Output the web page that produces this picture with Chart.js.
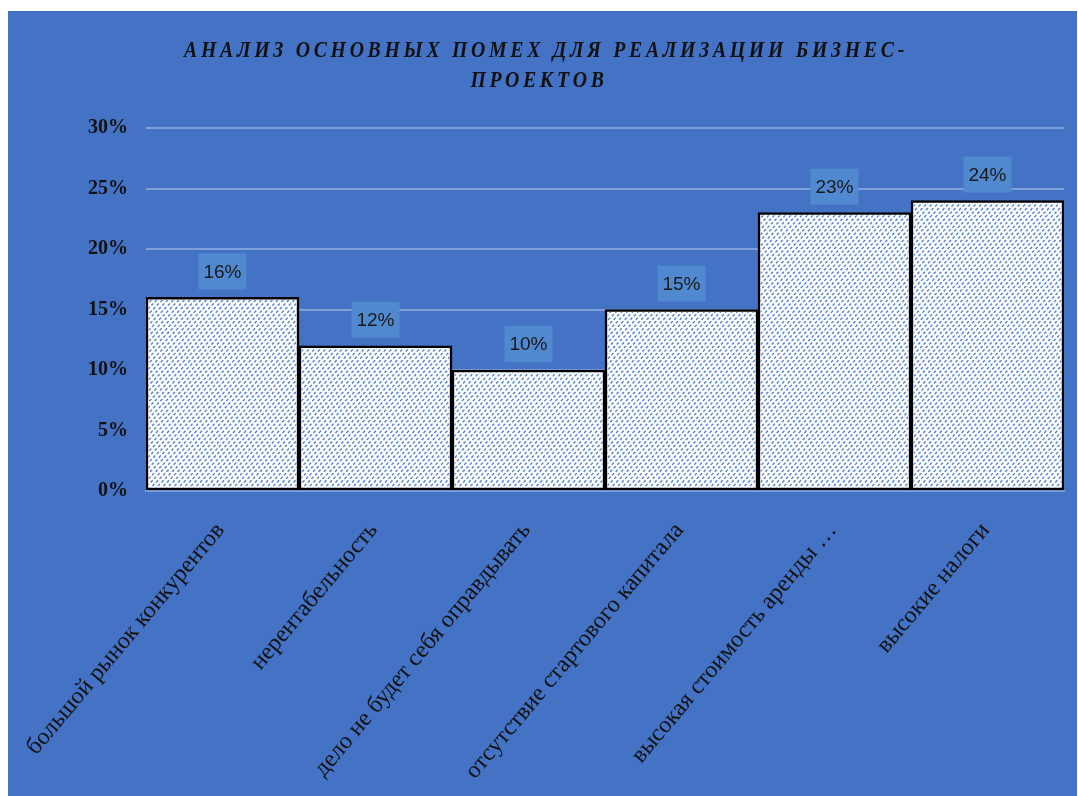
<!DOCTYPE html>
<html>
<head>
<meta charset="utf-8">
<script src="https://cdn.jsdelivr.net/npm/chart.js@4/dist/chart.umd.min.js"></script>
<style>
  html, body { margin: 0; padding: 0; background: #ffffff; }
  #c { display: block; }
</style>
</head>
<body>
<canvas id="c" width="1078" height="796"></canvas>
<script>
const categories = [
  'большой рынок конкурентов',
  'нерентабельность',
  'дело не будет себя оправдывать',
  'отсутствие стартового капитала',
  'высокая стоимость аренды …',
  'высокие налоги'
];
const values = [16, 12, 10, 15, 23, 24];
const valueLabels = ['16%', '12%', '10%', '15%', '23%', '24%'];
const titleLines = ['АНАЛИЗ ОСНОВНЫХ ПОМЕХ ДЛЯ РЕАЛИЗАЦИИ БИЗНЕС-', 'ПРОЕКТОВ'];

const BLUE = '#4472c4';
const canvas = document.getElementById('c');

const bgPlugin = {
  id: 'bgPanel',
  beforeDraw(chart) {
    const ctx = chart.ctx;
    ctx.save();
    ctx.fillStyle = '#ffffff';
    ctx.fillRect(0, 0, chart.width, chart.height);
    ctx.fillStyle = BLUE;
    ctx.fillRect(8, 11, chart.width - 9, chart.height - 11);
    ctx.restore();
  }
};

// diagonal dashed hatch inside each bar (Excel-style pattern fill)
const hatchPlugin = {
  id: 'hatch',
  afterDatasetsDraw(chart) {
    const ctx = chart.ctx;
    const meta = chart.getDatasetMeta(0);
    ctx.save();
    meta.data.forEach((bar) => {
      const p = bar.getProps(['x', 'y', 'base', 'width'], true);
      const inset = 2.5;
      const l = p.x - p.width / 2 + inset;
      const r = p.x + p.width / 2 - inset;
      const t = Math.min(p.y, p.base) + inset;
      const b = Math.max(p.y, p.base) - inset;
      ctx.save();
      ctx.beginPath();
      ctx.rect(l, t, r - l, b - t);
      ctx.clip();
      const h = b - t;
      ctx.strokeStyle = '#4a7bd0';
      ctx.lineWidth = 1.3;
      ctx.setLineDash([3, 2]);
      ctx.beginPath();
      for (let k = -h - 10; k < (r - l) + 10; k += 5.5) {
        ctx.moveTo(l + k, b + 2);
        ctx.lineTo(l + k + h + 4, t - 2);
      }
      ctx.stroke();
      ctx.restore();
    });
    ctx.restore();
  }
};

const titlePlugin = {
  id: 'customTitle',
  afterDraw(chart) {
    const ctx = chart.ctx;
    ctx.save();
    ctx.font = 'italic bold 23px "Liberation Serif"';
    ctx.fillStyle = '#111111';
    ctx.textAlign = 'center';
    ctx.textBaseline = 'middle';
    ctx.letterSpacing = '4.3px';
    const sx = 0.86;
    ctx.scale(sx, 1);
    ctx.fillText(titleLines[0], 546 / sx, 51);
    ctx.fillText(titleLines[1], 539 / sx, 81);
    ctx.restore();
  }
};

const labelPlugin = {
  id: 'valueBoxes',
  afterDatasetsDraw(chart) {
    const ctx = chart.ctx;
    const meta = chart.getDatasetMeta(0);
    ctx.save();
    meta.data.forEach((bar, i) => {
      const cx = bar.x;
      const cy = bar.y - 26;
      ctx.fillStyle = '#5189d0';
      ctx.fillRect(cx - 24, cy - 18, 48, 36);
      ctx.fillStyle = '#1a1a1a';
      ctx.font = '19px "Liberation Sans"';
      ctx.textAlign = 'center';
      ctx.textBaseline = 'middle';
      ctx.fillText(valueLabels[i], cx, cy + 1);
    });
    ctx.restore();
  }
};

new Chart(canvas, {
  type: 'bar',
  data: {
    labels: categories,
    datasets: [{
      data: values,
      backgroundColor: '#ffffff',
      borderColor: '#000000',
      borderWidth: 2.5,
      borderSkipped: false,
      barPercentage: 1,
      categoryPercentage: 1
    }]
  },
  options: {
    responsive: false,
    animation: false,
    devicePixelRatio: 1,
    layout: { padding: { top: 128, left: 0, right: 14, bottom: 0 } },
    plugins: {
      legend: { display: false },
      title: { display: false },
      tooltip: { enabled: false }
    },
    scales: {
      x: {
        grid: { display: false, drawTicks: false },
        border: { display: true, color: '#7b9edb', width: 2 },
        ticks: {
          minRotation: 50,
          maxRotation: 50,
          autoSkip: false,
          padding: 26,
          labelOffset: -2,
          color: '#111111',
          font: { family: '"Liberation Serif"', size: 24 }
        },
        afterFit(scale) {
          scale.height = 305;
          scale.paddingLeft = 0;
          scale.paddingRight = 0;
        }
      },
      y: {
        min: 0,
        max: 30,
        ticks: {
          stepSize: 5,
          padding: 18,
          color: '#111111',
          font: { family: '"Liberation Serif"', size: 20, weight: 'bold' },
          callback: (v) => v + '%'
        },
        grid: { color: 'rgba(200,215,245,0.45)', lineWidth: 2, drawTicks: false },
        border: { display: false },
        afterFit(scale) { scale.width = 146; }
      }
    }
  },
  plugins: [bgPlugin, hatchPlugin, titlePlugin, labelPlugin]
});
</script>
</body>
</html>
